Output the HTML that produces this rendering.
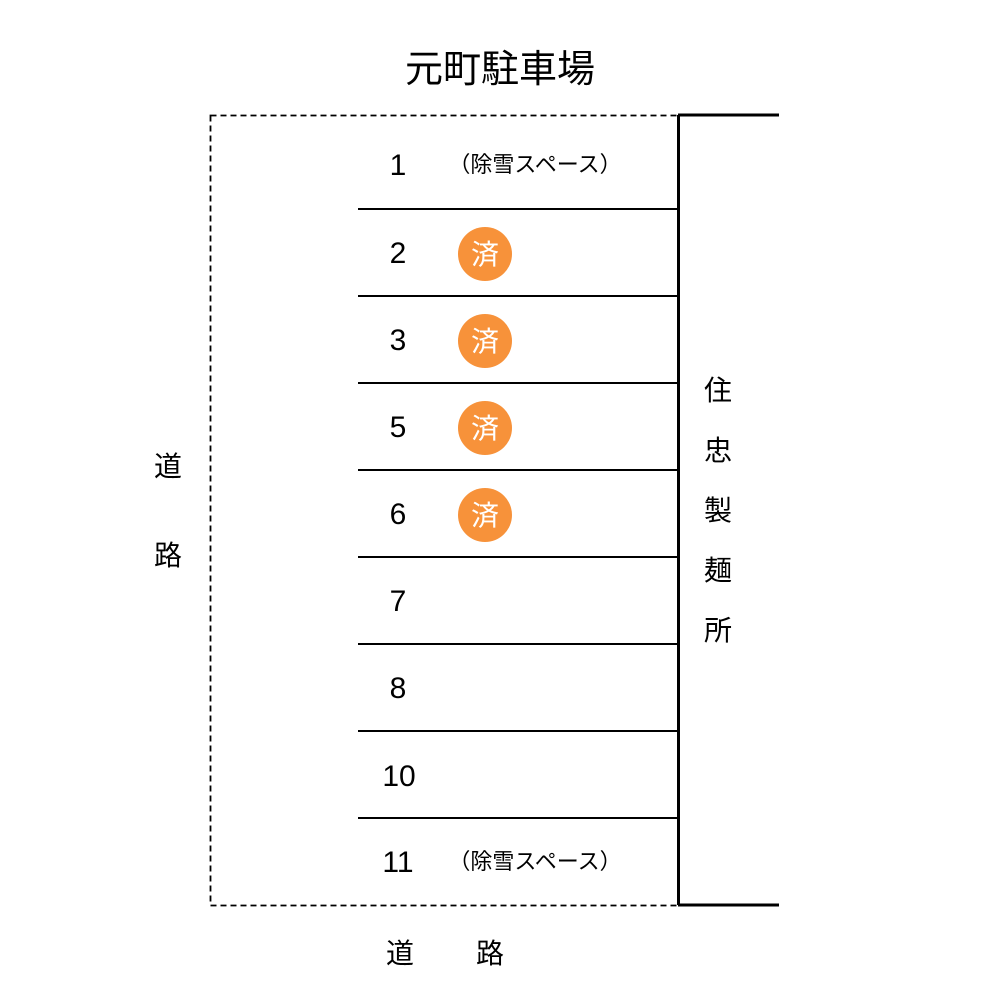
<!DOCTYPE html>
<html><head><meta charset="utf-8"><style>
html,body{margin:0;padding:0;background:#fff;}
svg{display:block;}
text{font-family:"Liberation Sans","Noto Sans CJK JP",sans-serif;fill:#000;}
</style></head><body>
<svg width="1000" height="1000" xmlns="http://www.w3.org/2000/svg">
<text x="500" y="82" font-size="38" text-anchor="middle">元町駐車場</text>
<rect x="210.5" y="115.5" width="468" height="790" fill="none" stroke="#000" stroke-width="1.8" stroke-dasharray="6,4"/>
<line x1="678.5" y1="115" x2="678.5" y2="905" stroke="#000" stroke-width="3"/>
<line x1="678" y1="115" x2="779" y2="115" stroke="#000" stroke-width="3"/>
<line x1="678" y1="905" x2="779" y2="905" stroke="#000" stroke-width="3"/>
<g stroke="#000" stroke-width="2">
<line x1="358" y1="209" x2="678" y2="209"/>
<line x1="358" y1="296" x2="678" y2="296"/>
<line x1="358" y1="383" x2="678" y2="383"/>
<line x1="358" y1="470" x2="678" y2="470"/>
<line x1="358" y1="557" x2="678" y2="557"/>
<line x1="358" y1="644" x2="678" y2="644"/>
<line x1="358" y1="731" x2="678" y2="731"/>
<line x1="358" y1="818" x2="678" y2="818"/>
</g>
<g font-size="30" text-anchor="middle">
<text x="398" y="175">1</text>
<text x="398" y="263">2</text>
<text x="398" y="350">3</text>
<text x="398" y="437">5</text>
<text x="398" y="524">6</text>
<text x="398" y="611">7</text>
<text x="398" y="698">8</text>
<text x="399" y="786">10</text>
<text x="398" y="872">11</text>
</g>
<text x="535" y="172" font-size="22" text-anchor="middle">（除雪スペース）</text>
<text x="535" y="869" font-size="22" text-anchor="middle">（除雪スペース）</text>
<g fill="#F7923A">
<circle cx="485" cy="254" r="27"/>
<circle cx="485" cy="341" r="27"/>
<circle cx="485" cy="428" r="27"/>
<circle cx="485" cy="515" r="27"/>
</g>
<g font-size="28" text-anchor="middle">
<text x="485" y="264" style="fill:#fff">済</text>
<text x="485" y="351" style="fill:#fff">済</text>
<text x="485" y="438" style="fill:#fff">済</text>
<text x="485" y="525" style="fill:#fff">済</text>
</g>
<g font-size="28" text-anchor="middle">
<text x="718" y="400">住</text>
<text x="718" y="460">忠</text>
<text x="718" y="520">製</text>
<text x="718" y="580">麺</text>
<text x="718" y="640">所</text>
<text x="168" y="476">道</text>
<text x="168" y="565">路</text>
<text x="400" y="963">道</text>
<text x="490" y="963">路</text>
</g>
</svg>
</body></html>
